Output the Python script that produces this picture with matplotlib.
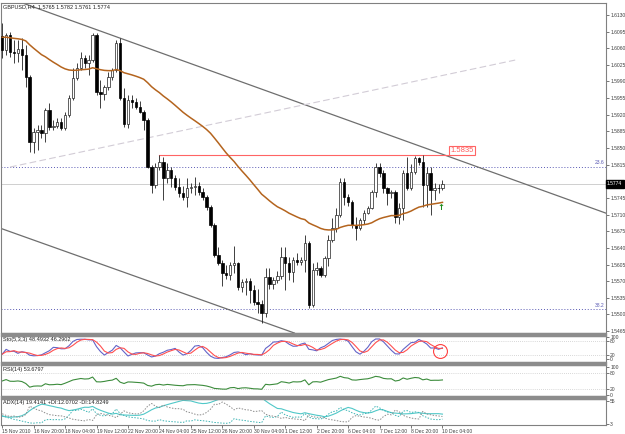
import matplotlib
matplotlib.use("Agg")
import matplotlib.pyplot as plt
from matplotlib.patches import Rectangle
import numpy as np
import pandas as pd

# GBPUSD H4, 15 Nov - 10 Dec 2010
opens = [1.6086, 1.6056, 1.6088, 1.6052, 1.6050, 1.6058, 1.6046, 1.6000, 1.5863, 1.5884,
         1.5888, 1.5882, 1.5930, 1.5894, 1.5897, 1.5905, 1.5892, 1.5920, 1.5955, 1.5997,
         1.6018, 1.6040, 1.6029, 1.6035, 1.6088, 1.5968, 1.5964, 1.5978, 1.6000, 1.6014,
         1.6071, 1.5955, 1.5901, 1.5951, 1.5947, 1.5936, 1.5926, 1.5909, 1.5810, 1.5772,
         1.5810, 1.5821, 1.5787, 1.5804, 1.5787, 1.5768, 1.5755, 1.5747, 1.5766, 1.5768,
         1.5770, 1.5758, 1.5747, 1.5726, 1.5688, 1.5625, 1.5608, 1.5587, 1.5583, 1.5604,
         1.5608, 1.5558, 1.5568, 1.5570, 1.5551, 1.5526, 1.5522, 1.5503, 1.5579, 1.5564,
         1.5572, 1.5581, 1.5621, 1.5608, 1.5589, 1.5614, 1.5610, 1.5614, 1.5650, 1.5520,
         1.5593, 1.5598, 1.5583, 1.5619, 1.5657, 1.5682, 1.5709, 1.5779, 1.5747, 1.5736,
         1.5688, 1.5682, 1.5699, 1.5713, 1.5724, 1.5758, 1.5810, 1.5798, 1.5766, 1.5755,
         1.5758, 1.5705, 1.5724, 1.5798, 1.5766, 1.5800, 1.5829, 1.5821, 1.5772, 1.5798,
         1.5762, 1.5766, 1.5765]
highs = [1.6113, 1.6092, 1.6094, 1.6077, 1.6077, 1.6082, 1.6067, 1.6004, 1.5892, 1.5899,
         1.5899, 1.5934, 1.5945, 1.5909, 1.5913, 1.5913, 1.5926, 1.5962, 1.6018, 1.6029,
         1.6052, 1.6046, 1.6046, 1.6092, 1.6092, 1.5993, 1.5983, 1.6010, 1.6018, 1.6077,
         1.6082, 1.5976, 1.5962, 1.5962, 1.5955, 1.5949, 1.5930, 1.5913, 1.5814, 1.5819,
         1.5835, 1.5831, 1.5819, 1.5810, 1.5793, 1.5787, 1.5770, 1.5787, 1.5776, 1.5789,
         1.5779, 1.5766, 1.5751, 1.5730, 1.5692, 1.5642, 1.5614, 1.5604, 1.5610, 1.5644,
         1.5610, 1.5574, 1.5577, 1.5577, 1.5562, 1.5553, 1.5530, 1.5598, 1.5598, 1.5579,
         1.5591, 1.5642, 1.5642, 1.5621, 1.5621, 1.5629, 1.5621, 1.5667, 1.5654, 1.5608,
         1.5610, 1.5602, 1.5623, 1.5667, 1.5703, 1.5724, 1.5787, 1.5787, 1.5753, 1.5741,
         1.5705, 1.5703, 1.5720, 1.5728, 1.5762, 1.5819, 1.5819, 1.5804, 1.5768, 1.5762,
         1.5762, 1.5734, 1.5804, 1.5831, 1.5816, 1.5833, 1.5831, 1.5835, 1.5810, 1.5810,
         1.5776, 1.5774, 1.5782]
lows = [1.6040, 1.6046, 1.6042, 1.6029, 1.6031, 1.6014, 1.5978, 1.5842, 1.5840, 1.5846,
        1.5871, 1.5863, 1.5888, 1.5888, 1.5892, 1.5888, 1.5888, 1.5915, 1.5951, 1.5993,
        1.6014, 1.6018, 1.6004, 1.6031, 1.5962, 1.5934, 1.5951, 1.5972, 1.5993, 1.6010,
        1.5951, 1.5894, 1.5892, 1.5934, 1.5932, 1.5924, 1.5888, 1.5808, 1.5755, 1.5766,
        1.5804, 1.5741, 1.5776, 1.5768, 1.5762, 1.5747, 1.5741, 1.5726, 1.5755, 1.5751,
        1.5751, 1.5741, 1.5720, 1.5684, 1.5621, 1.5604, 1.5560, 1.5574, 1.5572, 1.5587,
        1.5551, 1.5547, 1.5541, 1.5524, 1.5520, 1.5503, 1.5482, 1.5495, 1.5553, 1.5553,
        1.5566, 1.5574, 1.5551, 1.5572, 1.5568, 1.5604, 1.5604, 1.5589, 1.5513, 1.5516,
        1.5583, 1.5579, 1.5579, 1.5602, 1.5652, 1.5673, 1.5705, 1.5730, 1.5728, 1.5682,
        1.5657, 1.5678, 1.5690, 1.5711, 1.5722, 1.5747, 1.5789, 1.5755, 1.5730, 1.5745,
        1.5692, 1.5690, 1.5699, 1.5762, 1.5762, 1.5795, 1.5814, 1.5726, 1.5726, 1.5709,
        1.5741, 1.5755, 1.5761]
closes = [1.6056, 1.6088, 1.6052, 1.6050, 1.6058, 1.6046, 1.6000, 1.5863, 1.5884, 1.5888,
          1.5882, 1.5930, 1.5894, 1.5897, 1.5905, 1.5892, 1.5920, 1.5955, 1.5997, 1.6018,
          1.6040, 1.6029, 1.6035, 1.6088, 1.5968, 1.5964, 1.5978, 1.6000, 1.6014, 1.6071,
          1.5955, 1.5901, 1.5951, 1.5947, 1.5936, 1.5926, 1.5909, 1.5810, 1.5772, 1.5810,
          1.5821, 1.5787, 1.5804, 1.5787, 1.5768, 1.5755, 1.5747, 1.5766, 1.5768, 1.5770,
          1.5758, 1.5747, 1.5726, 1.5688, 1.5625, 1.5608, 1.5587, 1.5583, 1.5604, 1.5608,
          1.5558, 1.5568, 1.5570, 1.5551, 1.5526, 1.5522, 1.5503, 1.5579, 1.5564, 1.5572,
          1.5581, 1.5621, 1.5608, 1.5589, 1.5614, 1.5610, 1.5614, 1.5650, 1.5520, 1.5593,
          1.5598, 1.5583, 1.5619, 1.5657, 1.5682, 1.5709, 1.5779, 1.5747, 1.5736, 1.5688,
          1.5682, 1.5699, 1.5713, 1.5724, 1.5758, 1.5810, 1.5798, 1.5766, 1.5755, 1.5758,
          1.5705, 1.5724, 1.5798, 1.5766, 1.5800, 1.5829, 1.5821, 1.5772, 1.5798, 1.5762,
          1.5766, 1.5765, 1.5774]

time_labels = ["15 Nov 2010", "16 Nov 20:00", "18 Nov 04:00", "19 Nov 12:00", "22 Nov 20:00",
               "24 Nov 04:00", "25 Nov 12:00", "26 Nov 20:00", "30 Nov 04:00", "1 Dec 12:00",
               "2 Dec 20:00", "6 Dec 04:00", "7 Dec 12:00", "8 Dec 20:00", "10 Dec 04:00"]
time_label_bars = [0, 8, 16, 24, 32, 40, 48, 56, 64, 72, 80, 88, 96, 104, 112]
price_ticks = [1.6130, 1.6095, 1.6060, 1.6025, 1.5990, 1.5955, 1.5920, 1.5885, 1.5850,
               1.5815, 1.5780, 1.5745, 1.5710, 1.5675, 1.5640, 1.5605, 1.5570, 1.5535,
               1.5500, 1.5465]

ma_period = 50
ma_seed = 1.6084
rsi_seed_move = 0.0012
# ADX warm-up state before the first visible bar: tr, +dm, -dm, adx
adx_seed = (0.0035, 0.0010, 0.0012, 22.0)
resistance = 1.5835
fib_levels = {"23.6": 1.5811, "38.2": 1.5511}
bid = 1.5774
# trend lines: (bar, price) anchor pairs
upper_channel = [(4.5, 1.6157), (153.6, 1.5713)]
lower_channel = [(0.0, 1.5680), (73.3, 1.5464)]
dashed_line = [(2.0, 1.5810), (130.5, 1.6035)]
arrow_point = (111.7, 1.5724)
stoch_circle = (111.3, 38)

df = pd.DataFrame({"o": opens, "h": highs, "l": lows, "c": closes})
bars = np.arange(len(df))


def ema(values, period, seed):
    a = 2 / (period + 1)
    out, prev = [], seed
    for v in values:
        prev = a * v + (1 - a) * prev
        out.append(prev)
    return np.array(out)


ma = ema(closes, ma_period, ma_seed)

# Stochastic 5,3,3
ll = df.l.rolling(5, min_periods=1).min()
hh = df.h.rolling(5, min_periods=1).max()
stoch_k = (df.c - ll).rolling(3, min_periods=1).sum() / (hh - ll).rolling(3, min_periods=1).sum() * 100
stoch_d = stoch_k.rolling(3, min_periods=1).mean()

# RSI 14 (Wilder)
delta = df.c.diff().fillna(0).values
avg_g, avg_l = rsi_seed_move, rsi_seed_move
rsi = []
for dlt in delta:
    avg_g = (avg_g * 13 + max(dlt, 0)) / 14
    avg_l = (avg_l * 13 + max(-dlt, 0)) / 14
    rsi.append(100 - 100 / (1 + avg_g / avg_l))

# ADX 14
up_move = df.h.diff().fillna(0).values
down_move = (-df.l.diff()).fillna(0).values
pdm = np.where((up_move > down_move) & (up_move > 0), up_move, 0.0)
mdm = np.where((down_move > up_move) & (down_move > 0), down_move, 0.0)
prev_c = df.c.shift(1).fillna(df.o)
tr = pd.concat([df.h - df.l, (df.h - prev_c).abs(), (df.l - prev_c).abs()], axis=1).max(axis=1)
atr = ema(tr.values, 14, adx_seed[0])
pdi = 100 * ema(pdm, 14, adx_seed[1]) / atr
mdi = 100 * ema(mdm, 14, adx_seed[2]) / atr
dx = 100 * np.abs(pdi - mdi) / (pdi + mdi)
adx = ema(dx, 14, adx_seed[3])

plt.rcParams["font.family"] = "Liberation Sans"
W, H = 625, 434
fig = plt.figure(figsize=(W / 100, H / 100), dpi=100)
fig.patch.set_facecolor("white")


def px_axes(x0, y0, x1, y1):
    a = fig.add_axes([x0 / W, 1 - y1 / H, (x1 - x0) / W, (y1 - y0) / H])
    for s in a.spines.values():
        s.set_color("#808080")
        s.set_linewidth(0.8)
    a.set_xlim(-0.3, 153.6)
    a.set_xticks([])
    a.yaxis.tick_right()
    a.tick_params(axis="y", labelsize=3.6, length=2, width=0.5, pad=1, colors="#404040")
    return a


ax = px_axes(1, 3, 606, 333)
ax.set_ylim(1.5461, 1.6155)
ax.set_yticks(price_ticks)
ax.set_yticklabels(["" if abs(p - bid) < 0.001 else f"{p:.4f}" for p in price_ticks])

# fib / horizontal levels
for name, lvl in fib_levels.items():
    ax.axhline(lvl, color="#5a5ab4", lw=0.7, ls=(0, (1, 2)))
    ax.text(153.2, lvl + 0.0003, name, color="#5a5ab4", fontsize=3.6, ha="right", va="bottom")
ax.axhline(bid, color="#c8c8c8", lw=0.6)

# trend lines
ax.axline(upper_channel[0], upper_channel[1], color="#6e6e6e", lw=0.9)
ax.axline(lower_channel[0], lower_channel[1], color="#6e6e6e", lw=0.9)
ax.plot([dashed_line[0][0], dashed_line[1][0]], [dashed_line[0][1], dashed_line[1][1]],
        color="#d2ccd6", lw=0.8, ls=(0, (6, 3)))

# resistance
ax.plot([40, 113.6], [resistance, resistance], color="#ff6464", lw=0.8)
ax.text(114.0, resistance + 0.00025, f"{resistance:.4f}", color="#ff5a5a", fontsize=5.5,
        ha="left", va="bottom",
        bbox=dict(boxstyle="square,pad=0.12", fc="white", ec="#ff6464", lw=0.8))

# candles
o = df.o.values
c = df.c.values
bull = c >= o
ax.vlines(bars, df.l, df.h, color="#202020", lw=0.6, zorder=3)
ax.bar(bars[bull], np.maximum(c - o, 0.00004)[bull], bottom=o[bull], width=0.62,
       color="white", edgecolor="#202020", lw=0.5, zorder=4)
ax.bar(bars[~bull], (o - c)[~bull], bottom=c[~bull], width=0.62,
       color="black", edgecolor="black", lw=0.5, zorder=4)

ax.plot(bars, ma, color="#b4641e", lw=1.1, zorder=5)
ax.text(arrow_point[0], arrow_point[1], "\u2191", color="#1a8a1a", fontsize=6,
        fontweight="bold", ha="center", va="center", zorder=6, family="DejaVu Sans")

ax.text(0.004, 0.997, "GBPUSD,H4  1.5765 1.5782 1.5761 1.5774", transform=ax.transAxes,
        fontsize=4, va="top", ha="left", color="#202020")

# Stochastic panel
ax_s = px_axes(1, 336, 606, 362)
ax_s.set_ylim(-13.6, 104.5)
for lvl in (80, 20):
    ax_s.axhline(lvl, color="#b4b4b4", lw=0.5, ls=(0, (1, 2)))
ax_s.plot(bars, stoch_k, color="#6464c8", lw=0.8)
ax_s.plot(bars, stoch_d, color="#ff5050", lw=0.8)
ax_s.plot(*stoch_circle, "o", ms=10, mfc="none", mec="#ff4040", mew=0.8)
ax_s.set_yticks([100, 80, 20, 0])
ax_s.set_yticklabels(["100", "80", "20", "0"])
ax_s.text(0.004, 0.95, "Sto(5,3,3) 48.4932 46.2902", transform=ax_s.transAxes,
          fontsize=4, va="top", ha="left", color="#202020")

# RSI panel
ax_r = px_axes(1, 365, 606, 396)
ax_r.set_ylim(-3.6, 107)
for lvl in (80, 20):
    ax_r.axhline(lvl, color="#b4b4b4", lw=0.5, ls=(0, (1, 2)))
ax_r.plot(bars, rsi, color="#3c8c3c", lw=0.8)
ax_r.set_yticks([100, 80, 20, 0])
ax_r.set_yticklabels(["100", "80", "20", "0"])
ax_r.text(0.004, 0.95, "RSI(14) 53.6797", transform=ax_r.transAxes,
          fontsize=4, va="top", ha="left", color="#202020")

# ADX panel
ax_a = px_axes(1, 399, 606, 425)
ax_a.set_ylim(0, 60)
ax_a.plot(bars, adx, color="#50c8c8", lw=0.8)
ax_a.plot(bars, pdi, color="#3cb4b4", lw=0.7, ls=(0, (1.5, 1.5)))
ax_a.plot(bars, mdi, color="#8c8c8c", lw=0.7, ls=(0, (1.5, 1.5)))
ax_a.set_yticks([55, 3])
ax_a.set_yticklabels(["55", "3"])
ax_a.text(0.004, 0.95, "ADX(14) 19.4141 +DI:12.0702 -DI:14.8249", transform=ax_a.transAxes,
          fontsize=4, va="top", ha="left", color="#202020")

ax_a.set_xticks(time_label_bars)
ax_a.set_xticklabels(time_labels, ha="left")
ax_a.tick_params(axis="x", labelsize=3.6, length=2, width=0.5, pad=1, colors="#404040")

# window separators
for y0 in (333, 362, 396):
    fig.patches.append(Rectangle((1 / W, 1 - (y0 + 3) / H), 605 / W, 3 / H,
                                 transform=fig.transFigure, color="#8c8c8c", zorder=10))

# current price box
fig.text(607 / W, 1 - 184 / H, f"{bid:.4f}", fontsize=3.6, color="white", va="center",
         ha="left", bbox=dict(boxstyle="square,pad=0.25", fc="black", ec="black"), zorder=20)

fig.savefig("out.png", dpi=100)
